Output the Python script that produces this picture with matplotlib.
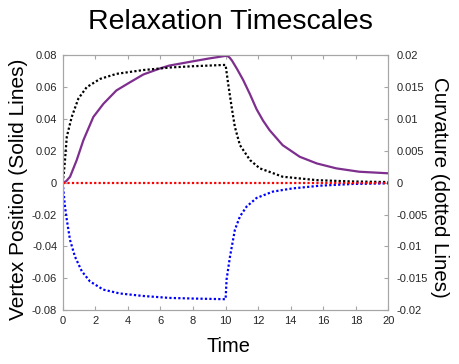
import matplotlib
matplotlib.use("Agg")
import matplotlib.pyplot as plt
from matplotlib.ticker import FuncFormatter, MultipleLocator

plt.rcParams['font.family'] = ['Liberation Sans', 'DejaVu Sans']

# vertex position (solid, left axis)
pos_t = [0, 0.2, 0.45, 0.86, 1.27, 1.88, 2.5, 3.3, 4.13, 4.95, 5.97, 6.54, 8.0, 9.0, 10.0, 10.1,
         10.25, 10.4, 10.7, 11.08, 11.5, 11.9, 12.3, 12.7, 13.5, 14.55, 15.6, 16.8, 18.2, 20]
pos_y = [0, 0.0008, 0.0037, 0.0142, 0.0267, 0.0413, 0.0496, 0.058, 0.0631, 0.068, 0.0718, 0.0736,
         0.0763, 0.0781, 0.0797, 0.0797, 0.0786, 0.0766, 0.0715, 0.0645, 0.0555, 0.0462, 0.0390,
         0.033, 0.0236, 0.0163, 0.0121, 0.009, 0.0069, 0.0059]

# curvature (dotted, right axis)
black_t = [0, 0.07, 0.14, 0.25, 0.55, 0.96, 1.47, 2.29, 3.3, 4.95, 6.6, 8.0, 9.9, 10.0, 10.16,
           10.37, 10.57, 10.88, 11.5, 12.1, 12.7, 13.5, 15.6, 17.7, 20]
black_y = [0, 0.0015, 0.0035, 0.0072, 0.0103, 0.0132, 0.015, 0.0163, 0.0171, 0.0177, 0.0181,
           0.0183, 0.0185, 0.0185, 0.0155, 0.0119, 0.00875, 0.0059, 0.00355, 0.00225, 0.0017,
           0.00094, 0.0004, 0.0002, 0.0001]

blue_t = [0, 0.04, 0.14, 0.25, 0.45, 0.75, 1.17, 1.67, 2.49, 3.5, 4.95, 6.54, 8.0, 9.9, 10.0,
          10.06, 10.27, 10.57, 10.88, 11.29, 11.9, 12.9, 14.1, 15.8, 17.8, 20]
blue_y = [0, -0.0011, -0.00375, -0.0058, -0.009, -0.0116, -0.0139, -0.0155, -0.0168, -0.0174,
          -0.0178, -0.0181, -0.0182, -0.0183, -0.0183, -0.0152, -0.0116, -0.0074, -0.0053,
          -0.00375, -0.0024, -0.0014, -0.0009, -0.00047, -0.0002, -0.0001]

red_t = [0, 20]
red_y = [0, 0]

W, H = 460, 364
fig = plt.figure(figsize=(W / 100, H / 100), dpi=100)
ax = fig.add_axes([62.7 / W, (H - 310) / H, (388.5 - 62.7) / W, (310 - 55.4) / H])
ax2 = ax.twinx()

spine_c = '#a6a6a6'
txt_c = '#262626'
gfmt = FuncFormatter(lambda v, p: '%g' % round(v, 6))

ax.plot(pos_t, pos_y, color='#7E2F8E', lw=1.6, solid_capstyle='butt', zorder=3)
ax2.plot(black_t, black_y, color='black', lw=1.6, ls=(0, (1, 1)))
ax2.plot(blue_t, blue_y, color='#0000FF', lw=1.6, ls=(0, (1, 1)))
ax2.plot(red_t, red_y, color='#FF0000', lw=1.6, ls=(0, (1, 1)))

ax.set_xlim(0, 20)
ax.set_ylim(-0.08, 0.08)
ax2.set_ylim(-0.02, 0.02)
ax.xaxis.set_major_locator(MultipleLocator(2))
ax.yaxis.set_major_locator(MultipleLocator(0.02))
ax2.yaxis.set_major_locator(MultipleLocator(0.005))
ax.yaxis.set_major_formatter(gfmt)
ax2.yaxis.set_major_formatter(gfmt)

ax.tick_params(axis='x', direction='in', top=True, length=3, width=0.8, color=spine_c,
               labelsize=8, labelcolor=txt_c, pad=4)
ax.tick_params(axis='y', direction='in', right=False, length=3, width=0.8, color=spine_c,
               labelsize=8, labelcolor=txt_c, pad=4)
ax2.tick_params(axis='y', direction='in', length=3, width=0.8, color=spine_c,
                labelsize=8, labelcolor=txt_c, pad=6)
for a in (ax, ax2):
    for s in a.spines.values():
        s.set_color(spine_c)
        s.set_linewidth(0.8)

fig.text(230 / W, 1 - 22 / H, 'Relaxation Timescales', fontsize=20.5, ha='center', va='center')
fig.text(228 / W, 1 - 347 / H, 'Time', fontsize=14.4, ha='center', va='center')
fig.text(19 / W, 1 - 189 / H, 'Vertex Position (Solid Lines)', fontsize=15, rotation=90,
         ha='center', va='center')
fig.text(440 / W, 1 - 187 / H, 'Curvature (dotted Lines)', fontsize=14.8, rotation=-90,
         ha='center', va='center')

fig.savefig('out.png', dpi=100)
